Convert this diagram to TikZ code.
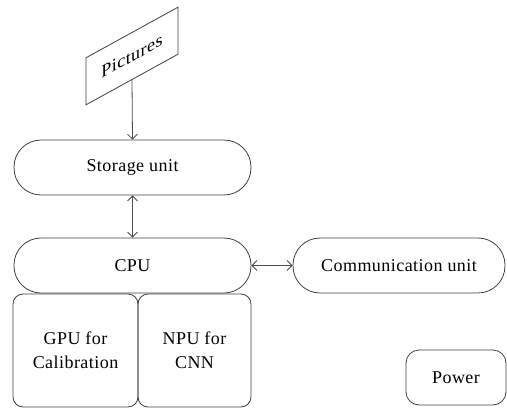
\documentclass[tikz,border=0pt]{standalone}
\usepackage{fontspec}
\setmainfont{Liberation Serif}[LetterSpace=2.5]
\usepackage{tikz}
\usetikzlibrary{positioning, arrows.meta}

\begin{document}
\begin{tikzpicture}[x=1pt, y=-1pt, >={Straight Barb[length=5pt, width=10pt]},
        every node/.style={font=\fontsize{18}{24}\selectfont, align=center, text=black},
        unit/.style={draw=black!75, line width=0.8pt, rounded corners=27pt, minimum height=55pt, inner sep=0pt},
        block/.style={draw=black!75, line width=0.8pt, rounded corners=10pt, inner sep=0pt},
        link/.style={draw=black!70, line width=0.8pt},
      ]
      \useasboundingbox (0,0) rectangle (507,408);

      % the tag at the top
      \begin{scope}[shift={(132,56)}, yslant=0.55]
        \node[transform shape, draw=black!75, line width=0.8pt, minimum width=92pt, minimum height=47pt, inner sep=0pt] (pics) at (0,0) {Pictures};
      \end{scope}

      % main blocks
      \node[unit, minimum width=237pt] (storage) at (132.5,167.5) {Storage unit};
      \node[unit, minimum width=237pt] (cpu) at (132.5,265.5) {CPU};
      \node[unit, minimum width=212pt] (comm) at (399,265.5) {Communication unit};
      \node[block, minimum width=125pt, minimum height=113pt] (gpu) at (75.5,350.5) {GPU for\\Calibration};
      \node[block, minimum width=113pt, minimum height=113pt] (npu) at (194.5,350.5) {NPU for\\CNN};
      \node[block, rounded corners=13pt, minimum width=100pt, minimum height=55pt] (power) at (456,377.5) {Power};

      % connections
      \draw[link, ->] (pics.south) -- (storage.north);
      \draw[link, <->] (storage) -- (cpu);
      \draw[link, <->] (cpu) -- (comm);
    \end{tikzpicture}
\end{document}
